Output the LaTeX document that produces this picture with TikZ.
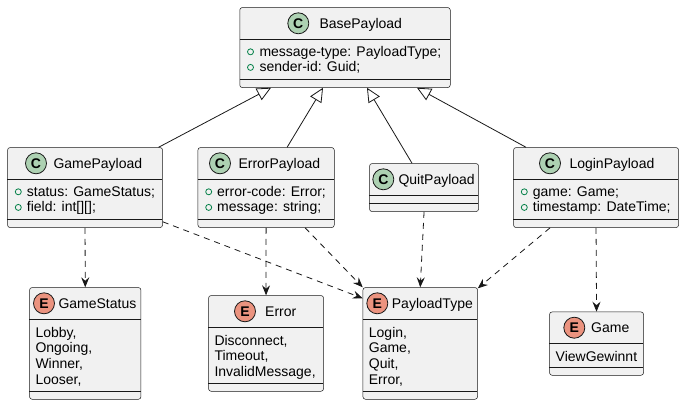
\documentclass[tikz,border=0pt]{standalone}
\usepackage{fontspec}
\setmainfont{Liberation Sans}
\usetikzlibrary{arrows.meta}

\definecolor{boxfill}{HTML}{F1F1F1}
\definecolor{umlline}{HTML}{181818}
\definecolor{classgreen}{HTML}{ADD1B2}
\definecolor{enumred}{HTML}{EB937F}
\definecolor{pubvis}{HTML}{038048}

\begin{document}
\begin{tikzpicture}[x=1pt,y=-1pt,
  umlbox/.style={draw=umlline,line width=0.5pt,fill=boxfill,rounded corners=2.5pt,inner sep=0pt,anchor=north west},
  sepline/.style={draw=umlline,line width=0.5pt},
  cicon/.style={circle,draw=umlline,line width=0.8pt,fill=classgreen,minimum size=21pt,inner sep=0pt,font=\fontsize{14}{16}\selectfont\bfseries},
  eicon/.style={cicon,fill=enumred},
  umltext/.style={inner sep=0pt,anchor=base west,align=left,font=\fontsize{14}{15.6}\selectfont},
  vis/.style={draw=pubvis,line width=0.8pt},
  extends/.style={draw=umlline,line width=0.8pt,-{Triangle[open,length=14pt,width=13pt]}},
  uses/.style={draw=umlline,line width=0.8pt,dash pattern=on 6pt off 5pt,-{Stealth[length=10pt,width=8pt,inset=3.5pt]}}]
\useasboundingbox (0,0) rectangle (685,405);

\node[umlbox,minimum width=210.5pt,minimum height=80pt] (base) at (239.5,7.3) {};
\draw[sepline] (239.5,39.3) -- (450,39.3);
\draw[sepline] (239.5,79.3) -- (450,79.3);
\node[cicon] (baseC) at (298.3,23.3) {C};
\node[umltext] (baseT) at (319.3,28.3) {BasePayload};
\draw[vis] (250.5,51.8) circle[radius=3pt];
\draw[vis] (250.5,67.4) circle[radius=3pt];
\node[umltext] (baseA) at (259.3,71.9) {message-type: PayloadType;\\sender-id: Guid;};

\node[umlbox,minimum width=155pt,minimum height=80pt] (game) at (7.3,147.3) {};
\draw[sepline] (7.3,179.3) -- (162.3,179.3);
\draw[sepline] (7.3,219.3) -- (162.3,219.3);
\node[cicon] (gameC) at (36,163.3) {C};
\node[umltext] (gameT) at (53.3,168.3) {GamePayload};
\draw[vis] (18.3,191.8) circle[radius=3pt];
\draw[vis] (18.3,207.4) circle[radius=3pt];
\node[umltext] (gameA) at (26.7,211.9) {status: GameStatus;\\field: int[][];};

\node[umlbox,minimum width=136.3pt,minimum height=80pt] (error) at (197.7,147.3) {};
\draw[sepline] (197.7,179.3) -- (334,179.3);
\draw[sepline] (197.7,219.3) -- (334,219.3);
\node[cicon] (errorC) at (220,163.3) {C};
\node[umltext] (errorT) at (238.3,168.3) {ErrorPayload};
\draw[vis] (208.7,191.8) circle[radius=3pt];
\draw[vis] (208.7,207.4) circle[radius=3pt];
\node[umltext] (errorA) at (217,211.9) {error-code: Error;\\message: string;};

\node[umlbox,minimum width=109pt,minimum height=48pt] (quit) at (369.3,163.3) {};
\draw[sepline] (369.3,195.3) -- (478.3,195.3);
\draw[sepline] (369.3,203.3) -- (478.3,203.3);
\node[cicon] (quitC) at (383.3,179.3) {C};
\node[umltext] (quitT) at (398.3,184.3) {QuitPayload};

\node[umlbox,minimum width=165pt,minimum height=80pt] (login) at (513.3,147.3) {};
\draw[sepline] (513.3,179.3) -- (678.3,179.3);
\draw[sepline] (513.3,219.3) -- (678.3,219.3);
\node[cicon] (loginC) at (550,163.3) {C};
\node[umltext] (loginT) at (569.3,168.3) {LoginPayload};
\draw[vis] (524.3,191.8) circle[radius=3pt];
\draw[vis] (524.3,207.4) circle[radius=3pt];
\node[umltext] (loginA) at (532.7,211.9) {game: Game;\\timestamp: DateTime;};

\node[umlbox,minimum width=111.4pt,minimum height=111.7pt] (gamestatus) at (29.3,287.3) {};
\draw[sepline] (29.3,319.3) -- (140.7,319.3);
\draw[sepline] (29.3,391.7) -- (140.7,391.7);
\node[eicon] (gamestatusE) at (44,303.3) {E};
\node[umltext] (gamestatusT) at (58.3,308) {GameStatus};
\node[umltext] (gamestatusA) at (35.3,384.1) {Lobby,\\Ongoing,\\Winner,\\Looser,};

\node[umlbox,minimum width=115pt,minimum height=95.7pt] (errorenum) at (208.3,295.3) {};
\draw[sepline] (208.3,327.3) -- (323.3,327.3);
\draw[sepline] (208.3,383.3) -- (323.3,383.3);
\node[eicon] (errorenumE) at (245,311.3) {E};
\node[umltext] (errorenumT) at (265,316) {Error};
\node[umltext] (errorenumA) at (214.3,376.5) {Disconnect,\\Timeout,\\InvalidMessage,};

\node[umlbox,minimum width=114.6pt,minimum height=111.7pt] (ptype) at (362.7,287.3) {};
\draw[sepline] (362.7,319.3) -- (477.3,319.3);
\draw[sepline] (362.7,391.7) -- (477.3,391.7);
\node[eicon] (ptypeE) at (377.3,303.3) {E};
\node[umltext] (ptypeT) at (391.7,308) {PayloadType};
\node[umltext] (ptypeA) at (368.7,384.1) {Login,\\Game,\\Quit,\\Error,};

\node[umlbox,minimum width=94pt,minimum height=63.3pt] (gameenum) at (549.3,311.7) {};
\draw[sepline] (549.3,343.7) -- (643.3,343.7);
\draw[sepline] (549.3,367.3) -- (643.3,367.3);
\node[eicon] (gameenumE) at (574.3,327.7) {E};
\node[umltext] (gameenumT) at (591,332.4) {Game};
\node[umltext] (gameenumA) at (555.5,361.3) {ViewGewinnt};

\draw[extends] ([xshift=73.5pt]game.north) -- ([xshift=-74pt]base.south);
\draw[extends] ([xshift=21pt]error.north) -- ([xshift=-22pt]base.south);
\draw[extends] ([xshift=-12pt]quit.north) -- ([xshift=22pt]base.south);
\draw[extends] ([xshift=-70pt]login.north) -- ([xshift=72pt]base.south);

\draw[uses] (game.south) -- (gamestatus.north);
\draw[uses] ([yshift=6pt]game.south east) -- ([yshift=-11pt]ptype.north west);
\draw[uses] (error.south) -- (errorenum.north);
\draw[uses] ([xshift=39pt]error.south) -- (ptype.north west);
\draw[uses] (quit.south) -- (ptype.north);
\draw[uses] ([xshift=-46pt]login.south) -- ([yshift=-1pt]ptype.north east);
\draw[uses] (login.south) -- (gameenum.north);
\end{tikzpicture}
\end{document}
